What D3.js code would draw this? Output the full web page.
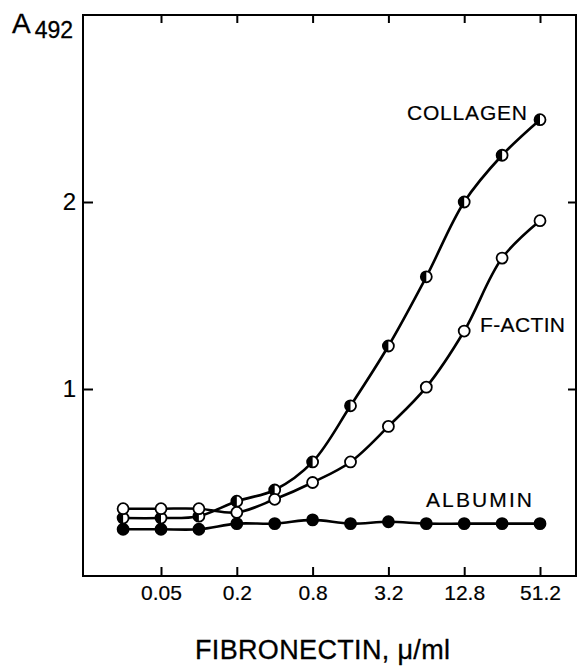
<!DOCTYPE html>
<html>
<head>
<meta charset="utf-8">
<script src="https://cdn.jsdelivr.net/npm/d3@7"></script>
<style>
  body { margin: 0; background: #fff; }
  text { font-family: "Liberation Sans", Arial, sans-serif; fill: #000; }
</style>
</head>
<body>
<div id="chart"></div>
<script>
var svgWidth = 578;
var svgHeight = 671;

var margin = { top: 15, right: 2, bottom: 95, left: 83 };
var chartWidth = svgWidth - margin.left - margin.right;
var chartHeight = svgHeight - margin.top - margin.bottom;

// fibronectin concentrations (ug/ml), doubling steps
var concentrations = [0.025, 0.05, 0.1, 0.2, 0.4, 0.8, 1.6, 3.2, 6.4, 12.8, 25.6, 51.2];
var collagen = [0.31, 0.31, 0.32, 0.40, 0.46, 0.61, 0.91, 1.23, 1.60, 2.00, 2.25, 2.44];
var fActin   = [0.36, 0.36, 0.36, 0.34, 0.41, 0.50, 0.61, 0.80, 1.01, 1.31, 1.70, 1.90];
var albumin  = [0.25, 0.25, 0.25, 0.28, 0.28, 0.30, 0.28, 0.29, 0.28, 0.28, 0.28, 0.28];

var xTicks = [0.05, 0.2, 0.8, 3.2, 12.8, 51.2];
var xTickLabels = ["0.05", "0.2", "0.8", "3.2", "12.8", "51.2"];
var yTicks = [1, 2];

var svg = d3.select("#chart").append("svg")
    .attr("width", svgWidth)
    .attr("height", svgHeight);

var chartGroup = svg.append("g")
    .attr("transform", `translate(${margin.left}, ${margin.top})`);

var xScale = d3.scaleLog().base(2)
    .domain([0.05, 51.2])
    .range([78, 457]);

var yScale = d3.scaleLinear()
    .domain([0, 3])
    .range([chartHeight, 0]);

// axes with inward ticks
var bottomAxis = d3.axisBottom(xScale)
    .tickValues(xTicks)
    .tickFormat((d, i) => xTickLabels[i])
    .tickSizeInner(-9).tickSizeOuter(0).tickPadding(9);
var topAxis = d3.axisTop(xScale)
    .tickValues(xTicks).tickFormat("")
    .tickSizeInner(-8).tickSizeOuter(0);
var leftAxis = d3.axisLeft(yScale)
    .tickValues(yTicks).tickFormat(d3.format("d"))
    .tickSizeInner(-10).tickSizeOuter(0).tickPadding(7);
var rightAxis = d3.axisRight(yScale)
    .tickValues(yTicks).tickFormat("")
    .tickSizeInner(-8).tickSizeOuter(0);

function styleAxis(g, size) {
  g.select(".domain").remove();
  g.selectAll(".tick line").attr("stroke", "#000").attr("stroke-width", 2);
  g.selectAll(".tick text")
    .attr("font-size", size)
    .attr("font-family", "Liberation Sans, Arial, sans-serif")
    .attr("fill", "#000")
    .attr("stroke", "#000")
    .attr("stroke-width", 0.2);
}

chartGroup.append("g").attr("transform", `translate(0, ${chartHeight})`).call(bottomAxis).call(styleAxis, 21);
chartGroup.append("g").call(topAxis).call(styleAxis, 21);
chartGroup.append("g").call(leftAxis).call(styleAxis, 24);
chartGroup.append("g").attr("transform", `translate(${chartWidth}, 0)`).call(rightAxis).call(styleAxis, 21);

// frame
chartGroup.append("rect")
    .attr("width", chartWidth)
    .attr("height", chartHeight)
    .attr("fill", "none")
    .attr("stroke", "#000")
    .attr("stroke-width", 2);

var line = d3.line()
    .x(d => xScale(d[0]))
    .y(d => yScale(d[1]))
    .curve(d3.curveCatmullRom.alpha(0.5));

var series = [
  { name: "collagen", values: collagen, marker: "half" },
  { name: "factin", values: fActin, marker: "open" },
  { name: "albumin", values: albumin, marker: "filled" }
];

var r = 5.5;

series.forEach(function(s) {
  var pts = concentrations.map((c, i) => [c, s.values[i]]);
  chartGroup.append("path")
      .datum(pts)
      .attr("d", line)
      .attr("fill", "none")
      .attr("stroke", "#000")
      .attr("stroke-width", 2.6);

  var marks = chartGroup.selectAll(".m-" + s.name)
      .data(pts)
      .enter()
      .append("g")
      .attr("class", "m-" + s.name)
      .attr("transform", d => `translate(${xScale(d[0])}, ${yScale(d[1])})`);

  marks.append("circle")
      .attr("r", r)
      .attr("fill", s.marker === "filled" ? "#000" : "#fff")
      .attr("stroke", "#000")
      .attr("stroke-width", 1.8);

  if (s.marker === "half") {
    marks.append("path")
        .attr("d", `M0,${-r} A${r},${r} 0 0 0 0,${r} Z`)
        .attr("fill", "#000");
  }
});

// series labels
var labels = [
  { text: "COLLAGEN", x: 407, y: 120, len: 120 },
  { text: "F-ACTIN", x: 480, y: 332, len: 85 },
  { text: "ALBUMIN", x: 426, y: 507, len: 106 }
];
chartGroup.selectAll(".series-label")
    .data(labels)
    .enter()
    .append("text")
    .attr("class", "series-label")
    .attr("x", d => d.x - margin.left)
    .attr("y", d => d.y - margin.top)
    .attr("font-size", 21)
    .attr("stroke", "#000").attr("stroke-width", 0.2)
    .attr("textLength", d => d.len).attr("lengthAdjust", "spacing")
    .text(d => d.text);

// y axis label
var yLabel = svg.append("text")
    .attr("x", 12).attr("y", 33)
    .attr("font-size", 28)
    .attr("stroke", "#000").attr("stroke-width", 0.3)
    .text("A");
yLabel.append("tspan")
    .attr("font-size", 23)
    .attr("dx", 4).attr("dy", 5)
    .text("492");

// x axis label
svg.append("text")
    .attr("x", 195).attr("y", 659)
    .attr("font-size", 27)
    .attr("stroke", "#000").attr("stroke-width", 0.3)
    .attr("textLength", 255).attr("lengthAdjust", "spacing")
    .text("FIBRONECTIN, \u03bc/ml");
</script>
</body>
</html>
